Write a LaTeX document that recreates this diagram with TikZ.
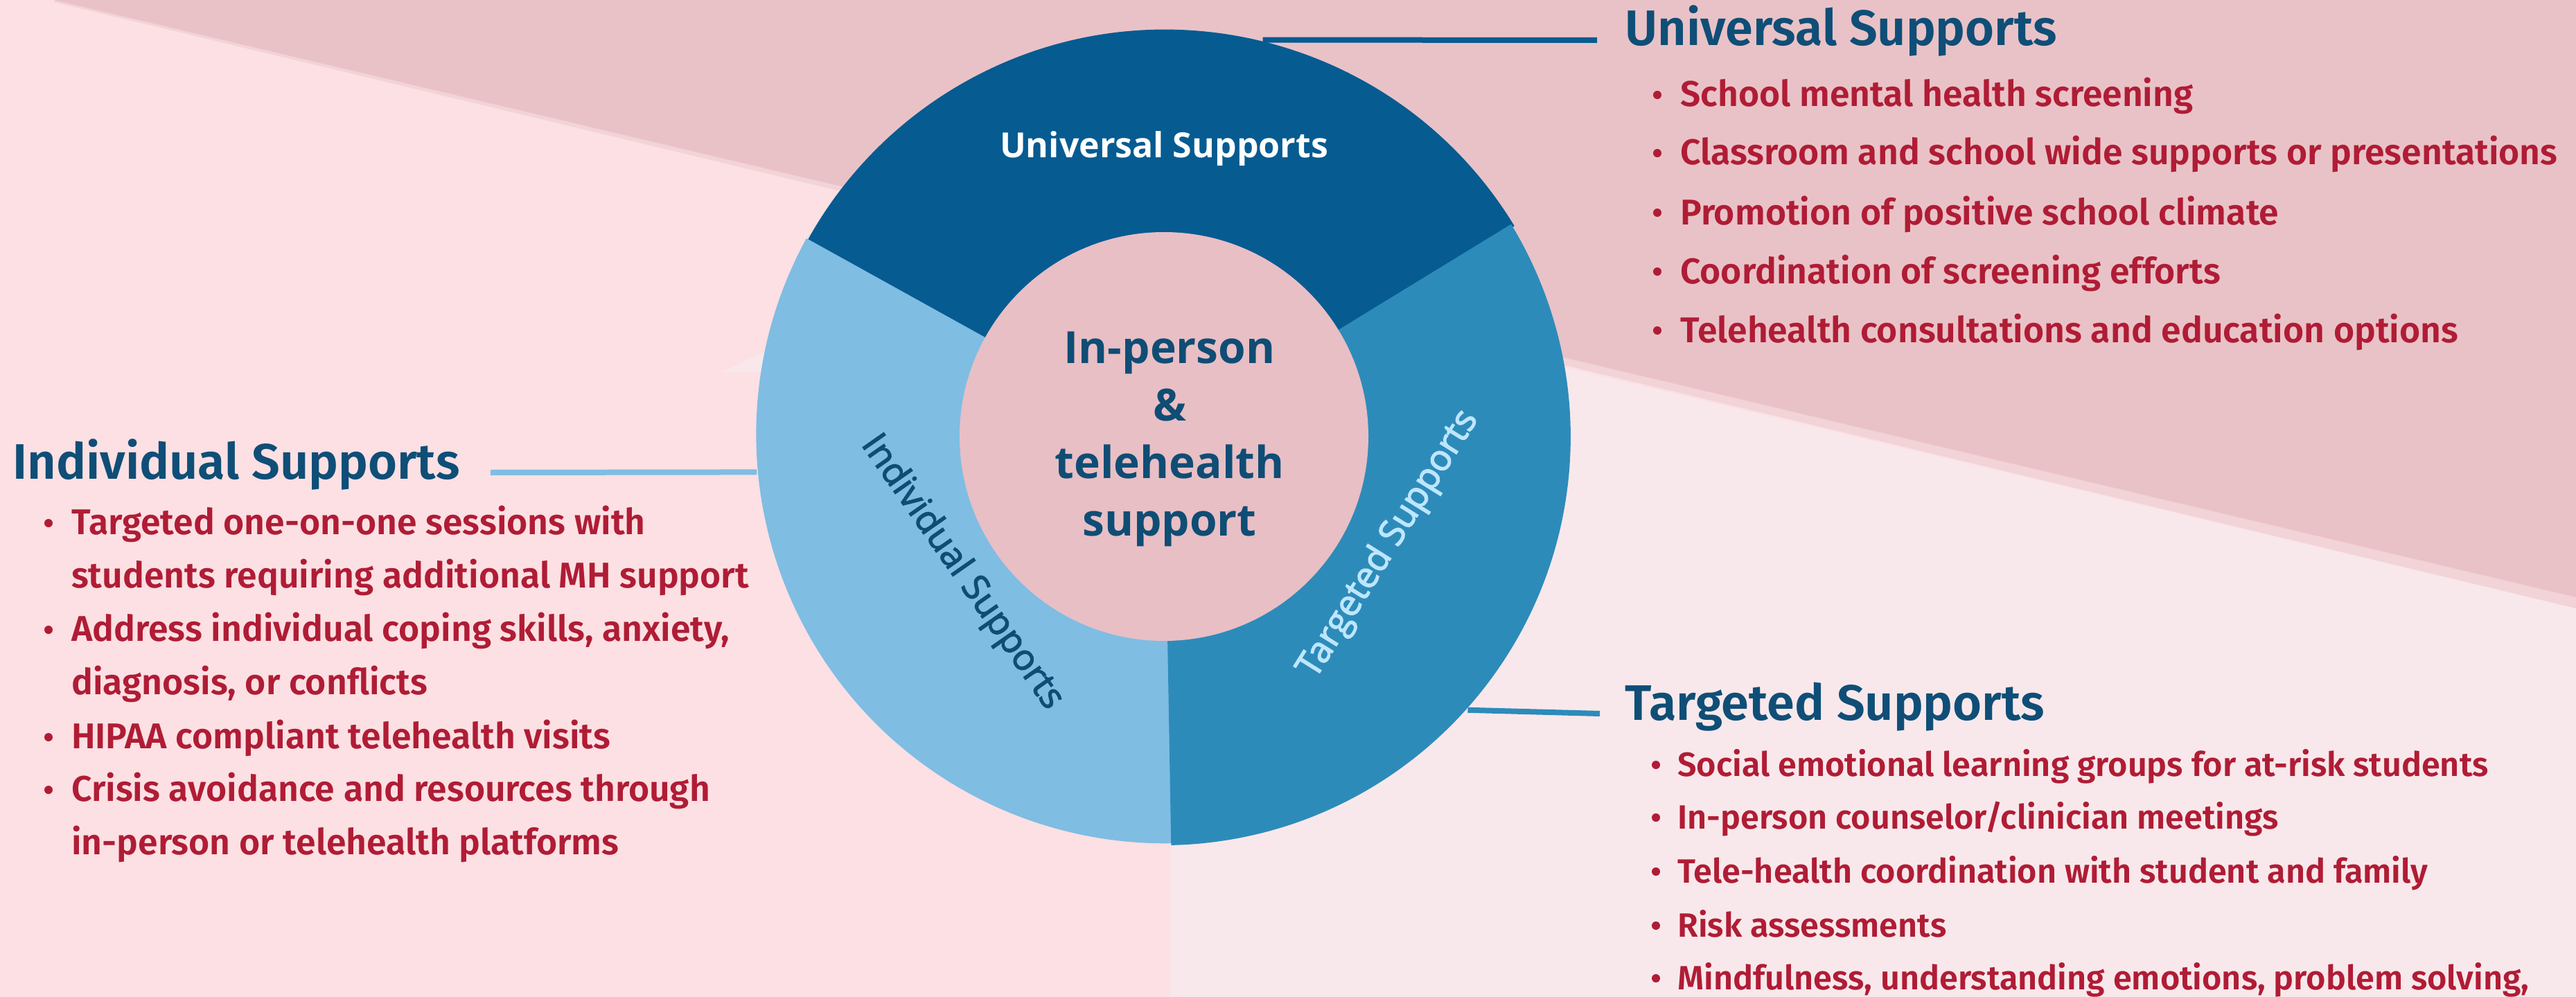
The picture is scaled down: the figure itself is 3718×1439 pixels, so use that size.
\documentclass[tikz,border=0pt]{standalone}
\usepackage{fontspec}
\setmainfont{Fira Sans}
\newfontfamily\sidefont{Fira Sans SemiBold}
\newfontfamily\ringfont{Open Sans}
\newfontfamily\ringsemi{Open Sans}[FakeBold=2.5]
\usetikzlibrary{calc}
\definecolor{bgbase}{HTML}{FCE0E3}
\definecolor{bgband}{HTML}{E9C2C7}
\definecolor{bglight}{HTML}{F8E8EB}
\definecolor{bgstripe}{HTML}{F2D3D7}
\definecolor{hubpink}{HTML}{E8BFC5}
\definecolor{uniblue}{HTML}{065B91}
\definecolor{indblue}{HTML}{7FBDE3}
\definecolor{tarblue}{HTML}{2D8BBA}
\definecolor{headblue}{HTML}{0F4E77}
\definecolor{itemred}{HTML}{B01C35}
\definecolor{hubtext}{HTML}{0F4D75}
\definecolor{tartext}{HTML}{BDE6FF}
\begin{document}
\begin{tikzpicture}[x=1pt,y=-1pt,
  heading/.style={anchor=base west, inner sep=0pt, text=headblue, font=\sidefont\fontsize{72}{84}\selectfont},
  item/.style={anchor=base west, inner sep=0pt, text=itemred, font=\sidefont\fontsize{51.7}{60}\selectfont},
  titem/.style={item, font=\sidefont\fontsize{48.6}{60}\selectfont},
  dot/.style={fill=itemred},
  conn/.style={line width=8pt},
  ringlabel/.style={inner sep=0pt, anchor=base, font=\ringsemi\fontsize{52}{60}\selectfont}
]
\useasboundingbox (0,0) rectangle (3718,1439);
% background
\fill[bgbase] (0,0) rectangle (3718,1439);
\fill[bglight] (1042,537) -- (1300,413) -- (1900,445) -- (3718,878) -- (3718,1439) -- (1689,1439) -- (1689,537) -- cycle;
\fill[bgstripe] (78,0) -- (3718,862) -- (3718,878) -- (78,3) -- cycle;
\fill[bgband] (78,0) -- (3718,0) -- (3718,862) -- cycle;
% ring anchor
\node[circle, minimum size=1180pt, inner sep=0pt, outer sep=0pt] (ring) at (1680,630) {};
% connectors
\coordinate (uEnd) at (2305,58);
\coordinate (iEnd) at (708,682);
\coordinate (tEnd) at (2309,1030);
\draw[conn, uniblue] (ring.76.1) -- (uEnd);
\draw[conn, indblue] (iEnd) -- (ring.185.05);
\draw[conn, tarblue] (ring.-42.7) -- (tEnd);
% ring segments
\fill[uniblue] (ring.center) -- (ring.31.3) arc[start angle=-31.3, end angle=-151.3, radius=590] -- cycle;
\fill[indblue] (ring.center) -- (ring.151.3) arc[start angle=-151.3, end angle=-271.3, radius=590] -- cycle;
\fill[tarblue] (ring.center) -- (ring.271.3) arc[start angle=-271.3, end angle=-391.3, radius=590] -- cycle;
\node[circle, fill=hubpink, minimum size=590pt, inner sep=0pt] (hub) at (1680,630) {};
\node[inner sep=0pt, align=center, text=hubtext, font=\ringfont\bfseries\fontsize{64}{83}\selectfont] (hubtxt) at (1688,634) {In-person\\\&\\telehealth\\support};
% ring labels
\node[ringlabel, text=white, font=\ringfont\bfseries\fontsize{50}{60}\selectfont] (unilbl) at (1680,228) {Universal Supports};
\node[ringlabel, text=hubtext, rotate=-55] (indlbl) at (1377,834) {Individual Supports};
\node[ringlabel, text=tartext, rotate=58] (tarlbl) at (2016,793) {Targeted Supports};
% Universal list
\node[heading] (unihead) at (2345,66) {Universal Supports};
\node[item] (u1) at (2425,154) {School mental health screening};
\node[item] (u2) at (2425,238) {Classroom and school wide supports or presentations};
\node[item] (u3) at (2425,324) {Promotion of positive school climate};
\node[item] (u4) at (2425,409) {Coordination of screening efforts};
\node[item] (u5) at (2425,494) {Telehealth consultations and education options};
\foreach \y in {137,221,307,392,477} \fill[dot] (2392,\y) circle[radius=6];
% Individual list
\node[heading] (indhead) at (18,691) {Individual Supports};
\node[item] (i1) at (103,771) {Targeted one-on-one sessions with};
\node[item] (i1b) at (103,848) {students requiring additional MH support};
\node[item] (i2) at (103,925) {Address individual coping skills, anxiety,};
\node[item] (i2b) at (103,1002) {diagnosis, or conflicts};
\node[item] (i3) at (103,1080) {HIPAA compliant telehealth visits};
\node[item] (i4) at (103,1156) {Crisis avoidance and resources through};
\node[item] (i4b) at (103,1233) {in-person or telehealth platforms};
\foreach \y in {755,909,1064,1140} \fill[dot] (70,\y) circle[radius=6];
% Targeted list
\node[heading] (tarhead) at (2345,1039) {Targeted Supports};
\node[titem] (t1) at (2421,1120) {Social emotional learning groups for at-risk students};
\node[titem] (t2) at (2421,1196) {In-person counselor/clinician meetings};
\node[titem] (t3) at (2421,1274) {Tele-health coordination with student and family};
\node[titem] (t4) at (2421,1352) {Risk assessments};
\node[titem] (t5) at (2421,1428) {Mindfulness, understanding emotions, problem solving,};
\foreach \y in {1104,1180,1258,1336,1412} \fill[dot] (2390,\y) circle[radius=6];
\end{tikzpicture}
\end{document}
